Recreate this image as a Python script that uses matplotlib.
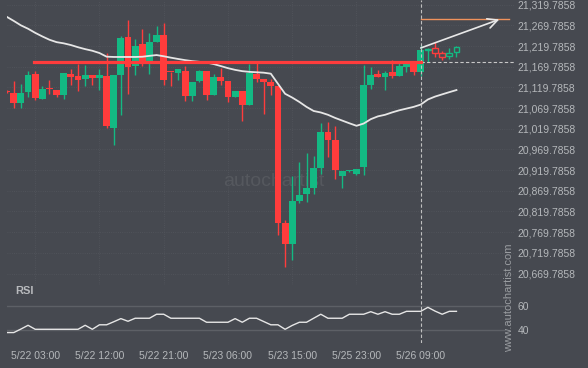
import numpy as np
import matplotlib
matplotlib.use('Agg')
import matplotlib.pyplot as plt

plt.rcParams['font.family'] = ['Liberation Sans', 'DejaVu Sans']

BG = '#464950'
GREEN = '#13b983'
RED = '#ff3c3c'
TXT = '#b5b8bb'

# hourly candles, first one (index -1) is cut by the left edge
opens = [21110, 21106, 21082, 21109, 21152, 21092, 21116, 21114, 21101, 21152,
         21147, 21140, 21150, 21143, 21147, 21022, 21150, 21242, 21172, 21225,
         21179, 21230, 21247, 21157, 21155, 21160, 21099, 21135, 21160, 21101,
         21145, 21135, 21097, 21111, 21077, 21152, 21140, 21133, 21123, 20792,
         20741, 20845, 20862, 20877, 20925, 21012, 20993, 20906, 20917, 20910,
         20927, 21126, 21152, 21145, 21157, 21147, 21169, 21181, 21157, 21209,
         21215, 21203, 21195, 21205]
highs = [21113, 21135, 21128, 21160, 21160, 21123, 21138, 21114, 21155, 21164,
         21176, 21174, 21150, 21164, 21203, 21150, 21244, 21283, 21237, 21261,
         21251, 21268, 21276, 21158, 21165, 21172, 21133, 21162, 21160, 21152,
         21167, 21136, 21111, 21112, 21176, 21181, 21141, 21140, 21124, 20799,
         20906, 20939, 20961, 20954, 21034, 21036, 21027, 20918, 20919, 20923,
         21174, 21169, 21162, 21160, 21186, 21184, 21179, 21182, 21222, 21215,
         21230, 21208, 21215, 21220]
lows = [21106, 21070, 21070, 21097, 21089, 21092, 21104, 21097, 21092, 21126,
        21111, 21123, 21126, 21114, 21022, 20981, 21053, 21104, 21150, 21172,
        21152, 21229, 21126, 21123, 21138, 21087, 21087, 21133, 21089, 21101,
        21126, 21085, 21096, 21039, 21077, 21133, 21056, 21101, 20763, 20686,
        20702, 20840, 20843, 20862, 20910, 20952, 20898, 20877, 20916, 20908,
        20908, 21116, 21144, 21114, 21143, 21147, 21157, 21150, 21147, 21181,
        21193, 21186, 21189, 21194]
closes = [21108, 21082, 21106, 21150, 21094, 21116, 21115, 21101, 21155, 21145,
          21138, 21150, 21143, 21150, 21027, 21150, 21239, 21169, 21220, 21176,
          21230, 21247, 21138, 21156, 21164, 21099, 21133, 21160, 21101, 21145,
          21135, 21097, 21111, 21077, 21155, 21140, 21133, 21123, 20792, 20741,
          20845, 20860, 20877, 20925, 21012, 20993, 20920, 20918, 20918, 20923,
          21126, 21150, 21145, 21155, 21147, 21172, 21179, 21157, 21210, 21211,
          21203, 21193, 21203, 21218]
ma = [21290.5, 21280.4, 21269.7, 21261.5, 21251.6, 21242.9, 21234.9, 21229.1, 21226.2, 21222.1,
      21216.8, 21212.2, 21208.3, 21202.8, 21194.0, 21193.3, 21193.3, 21193.3, 21193.3, 21193.8,
      21196.0, 21197.9, 21195.0, 21191.6, 21188.5, 21185.6, 21183.2, 21181.5, 21179.8, 21176.1,
      21171.3, 21166.2, 21162.1, 21159.0, 21157.3, 21156.3, 21155.3, 21152.9, 21128.5, 21104.3,
      21095.1, 21084.5, 21072.6, 21062.7, 21059.1, 21053.5, 21046.0, 21039.5, 21033.0, 21026.9,
      21032.3, 21042.9, 21049.7, 21053.5, 21059.3, 21064.4, 21068.5, 21072.6, 21078.2, 21090.5,
      21097.5, 21102.9, 21108.2, 21113.3]
rsi = [38.1, 38.1, 41.0, 44.1, 40.8, 40.8, 40.8, 40.8, 40.8, 40.8,
       40.8, 44.1, 40.8, 44.5, 44.5, 47.0, 49.6, 47.4, 49.9, 49.9,
       49.9, 53.2, 53.2, 49.9, 49.9, 49.9, 49.9, 49.9, 46.6, 46.6,
       46.6, 46.6, 49.6, 46.6, 49.9, 49.9, 47.2, 44.5, 44.5, 40.8,
       44.0, 46.6, 46.6, 49.9, 53.2, 49.9, 49.9, 49.9, 53.2, 53.2,
       53.2, 55.3, 53.2, 55.3, 53.2, 53.2, 55.6, 55.6, 55.6, 58.9,
       55.8, 53.2, 55.6, 55.6]
n_hollow = 5

tick_idx = [3, 12, 21, 30, 39, 48, 57]
tick_labels = ['5/22 03:00', '5/22 12:00', '5/22 21:00', '5/23 06:00',
               '5/23 15:00', '5/25 23:00', '5/26 09:00']
price_ticks = [20669.7858, 20719.7858, 20769.7858, 20819.7858, 20869.7858,
               20919.7858, 20969.7858, 21019.7858, 21069.7858, 21119.7858,
               21169.7858, 21219.7858, 21269.7858, 21319.7858]

level = 21181
level_start = 2.9
now_idx = 57
target = 21284
target_end = 69.4
arrow_end = 68.0
arrow_start_price = 21215

x = np.arange(len(opens)) - 1
xlim = (-0.95, 70.2)

fig = plt.figure(figsize=(5.88, 3.68), dpi=100, facecolor=BG)
ax = fig.add_axes([7 / 588, 1 - 285 / 368, 508 / 588, 285 / 368], facecolor=BG)
ax2 = fig.add_axes([7 / 588, 1 - 343 / 368, 508 / 588, 58 / 368], facecolor=BG)

# candles
for i, (xi, o, h, l, c) in enumerate(zip(x, opens, highs, lows, closes)):
    col = GREEN if c >= o else RED
    hollow = i >= len(opens) - n_hollow
    ax.vlines(xi, l, h, color=col, lw=1, zorder=2)
    body = max(abs(c - o), 2.4)
    if hollow:
        ax.bar(xi, body, bottom=min(o, c), width=0.82, facecolor=BG,
               edgecolor=col, linewidth=1, zorder=3)
    else:
        ax.bar(xi, body, bottom=min(o, c), width=0.96, color=col,
               linewidth=0, zorder=3)

ax.plot(x, ma, color='#e6e6e6', lw=1.3, zorder=4)
ax.plot([level_start, now_idx], [level, level], color=RED, lw=2.3, zorder=5)
ax.plot([now_idx, xlim[1]], [level, level], color='#c8c8c8', lw=0.8,
        ls=(0, (3, 2)), zorder=4)
ax.plot([now_idx, target_end], [target, target], color='#f0925c', lw=1, zorder=4)
ax.annotate('', xy=(arrow_end, target), xytext=(now_idx, arrow_start_price),
            arrowprops=dict(arrowstyle='->,head_length=0.7,head_width=0.35',
                            color='#e8e8e8', lw=1.2, shrinkA=0, shrinkB=0),
            zorder=6)
ax.axvline(now_idx, color='#c0c0c0', lw=0.8, ls=(0, (3, 2)), zorder=4)

ax.set_xlim(*xlim)
ax.set_ylim(20642, 21331)
ax.set_yticks(price_ticks)
ax.set_yticklabels([f'{p:,.4f}' for p in price_ticks])
ax.yaxis.tick_right()
ax.set_xticks(tick_idx)
ax.set_xticklabels([])
ax.tick_params(axis='both', length=0, colors=TXT, labelsize=7.5, pad=2)
ax.grid(True, color='#53565d', ls=':', lw=0.6, zorder=0)
for s in ax.spines.values():
    s.set_visible(False)

ax.text(0.525, 0.362, 'autochartist', transform=ax.transAxes, fontsize=14,
        color='#55585e', ha='center', va='center', zorder=1)

# RSI panel
ax2.plot(x, rsi, color='#e6e6e6', lw=1, zorder=3)
for v in (40, 60):
    ax2.axhline(v, xmax=0.98, color='#5d6066', lw=1, zorder=1)
ax2.axvline(now_idx, color='#c0c0c0', lw=0.8, ls=(0, (3, 2)), zorder=2)
ax2.set_xlim(*xlim)
ax2.set_ylim(29.5, 77.3)
ax2.set_yticks([40, 60])
ax2.set_yticklabels(['40', '60'])
ax2.yaxis.tick_right()
ax2.set_xticks(tick_idx)
ax2.set_xticklabels(tick_labels)
ax2.tick_params(axis='both', length=0, colors=TXT, labelsize=7.5)
ax2.tick_params(axis='x', pad=6)
ax2.tick_params(axis='y', pad=2)
for s in ax2.spines.values():
    s.set_visible(False)
ax2.text(0.016, 0.9, 'RSI', transform=ax2.transAxes, fontsize=8,
         fontweight='bold', color='#b8babd', ha='left', va='center')

fig.text(509 / 588, 1 - 298 / 368, 'www.autochartist.com', rotation=90,
         fontsize=8, color='#9a9da1', ha='center', va='center')

fig.savefig('out.png', dpi=100, facecolor=BG)
